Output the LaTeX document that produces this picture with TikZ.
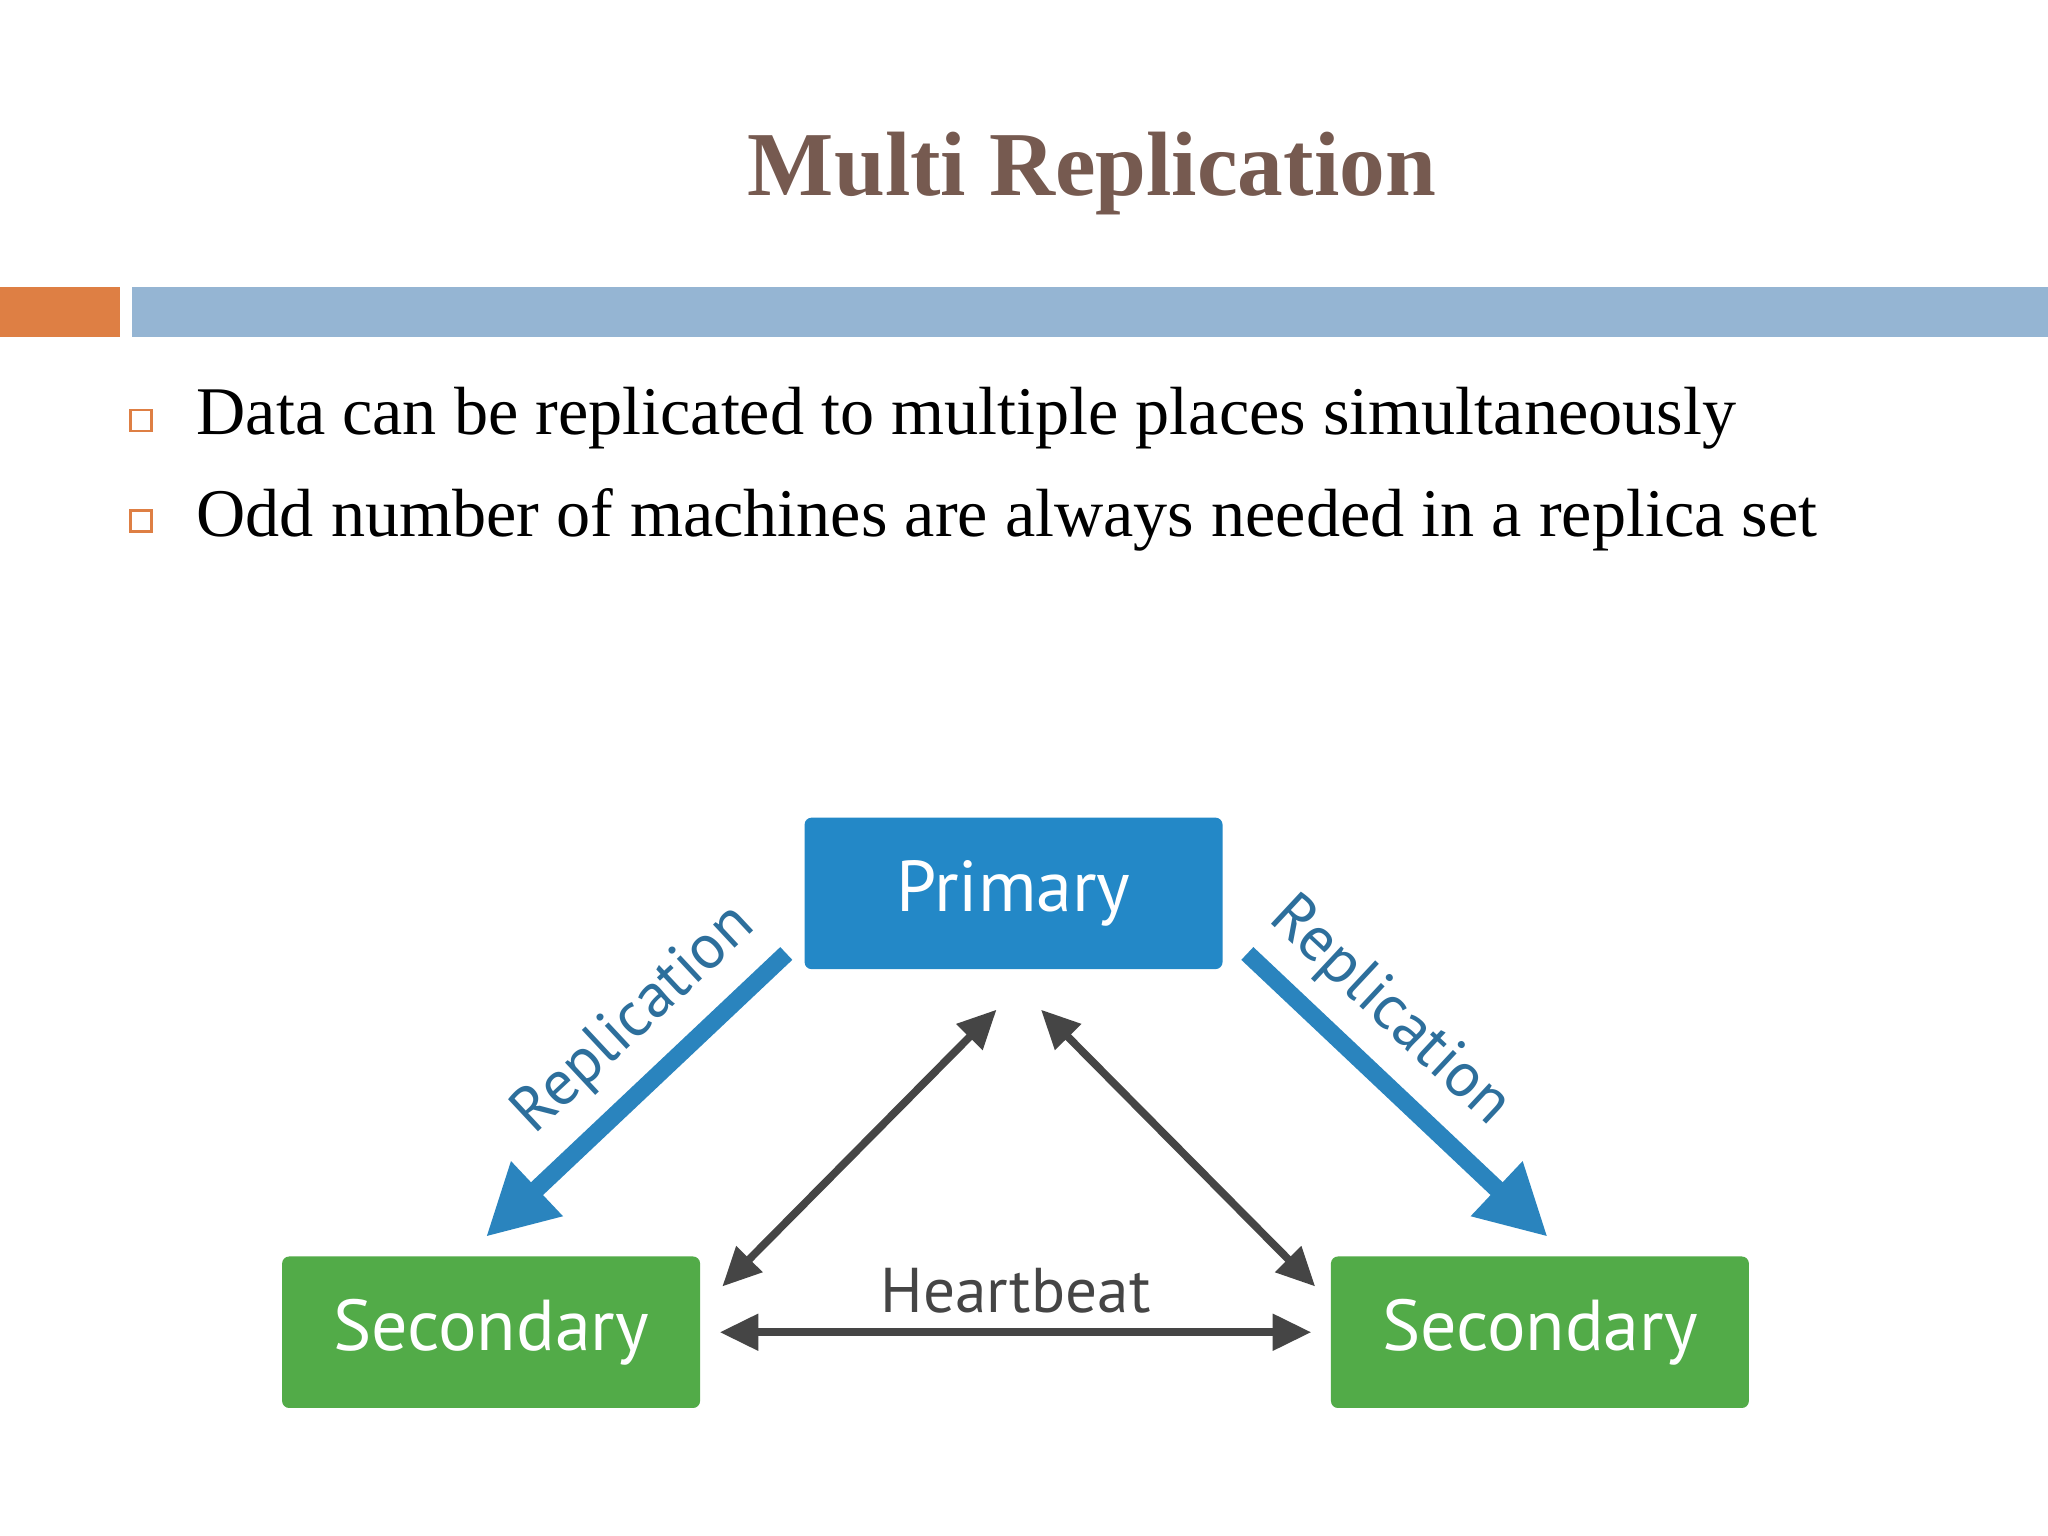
\documentclass[tikz,border=0pt]{standalone}
\usepackage{fontspec}
\setmainfont{Liberation Serif}
\newfontfamily\boxfont{PT Sans}
\usetikzlibrary{arrows.meta}
\definecolor{titlec}{HTML}{765A50}
\definecolor{orbar}{HTML}{DE7F44}
\definecolor{blbar}{HTML}{95B5D3}
\definecolor{prim}{HTML}{2388C7}
\definecolor{seco}{HTML}{52AB48}
\definecolor{grayarr}{HTML}{454545}
\definecolor{repc}{HTML}{2A84BE}
\definecolor{replab}{HTML}{2D6F9C}
\begin{document}
\begin{tikzpicture}[x=0.01306cm,y=-0.01306cm,
  box/.style={rounded corners=2pt,minimum width=320*0.01306cm,minimum height=116*0.01306cm,text=white,font=\boxfont\fontsize{20.5}{24}\selectfont,inner sep=0pt},
  hb/.style={draw=grayarr,line width=2.2pt,{Triangle[length=11pt,width=10pt]}-{Triangle[length=11pt,width=10pt]}},
  rep/.style={draw=repc,line width=5pt,-{Triangle[length=20pt,width=20pt]}},
  replbl/.style={text=replab,font=\boxfont\fontsize{18}{22}\selectfont},
  bul/.style={draw=orbar,line width=0.7pt,minimum size=16*0.01306cm,inner sep=0pt},
  btxt/.style={anchor=base west,font=\fontsize{19.4}{23}\selectfont,inner sep=0pt}]
\useasboundingbox[fill=white] (0,0) rectangle (1568,1176);
\node[font=\bfseries\fontsize{26}{31}\selectfont,text=titlec] (title) at (836,133) {Multi Replication};
\fill[orbar] (0,220) rectangle (92,258);
\fill[blbar] (101,220) rectangle (1568,258);
\node[bul] (b1) at (108,322) {};
\node[bul] (b2) at (108,399) {};
\node[btxt] (t1) at (150,333) {Data can be replicated to multiple places simultaneously};
\node[btxt] (t2) at (150,411) {Odd number of machines are always needed in a replica set};
\node[box,fill=prim] (p) at (776,684) {Primary};
\node[box,fill=seco] (s1) at (376,1020) {Secondary};
\node[box,fill=seco] (s2) at (1179,1020) {Secondary};
\coordinate (a1) at (553,985); \coordinate (a2) at (763,773);
\coordinate (a3) at (797,773); \coordinate (a4) at (1007,985);
\coordinate (a5) at (551,1020); \coordinate (a6) at (1004,1020);
\draw[hb] (a1) -- (a2);
\draw[hb] (a3) -- (a4);
\draw[hb] (a5) -- node[above=1pt,text=grayarr,font=\boxfont\fontsize{18}{22}\selectfont] (hbl) {Heartbeat} (a6);
\coordinate (r1) at (602,730); \coordinate (r2) at (372,947);
\coordinate (r3) at (955,730); \coordinate (r4) at (1185,947);
\draw[rep] (r1) -- (r2);
\draw[rep] (r3) -- (r4);
\node[replbl,rotate=43] (rl1) at (486,781) {Replication};
\node[replbl,rotate=-43] (rl2) at (1064,775) {Replication};
\end{tikzpicture}
\end{document}
